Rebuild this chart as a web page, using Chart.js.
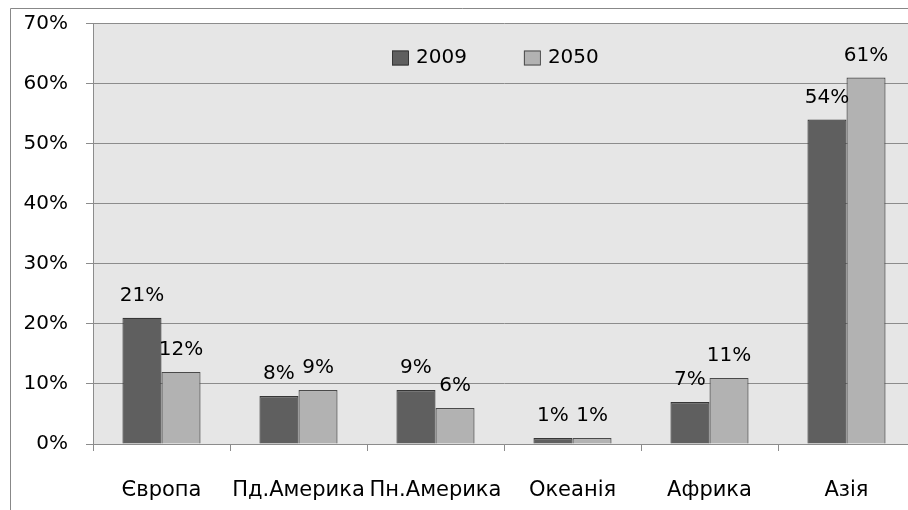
<!DOCTYPE html>
<html>
<head>
<meta charset="utf-8">
<script src="https://cdn.jsdelivr.net/npm/chart.js@4.4.1/dist/chart.umd.min.js"></script>
<style>
  body { margin: 0; overflow: hidden; background: #fff; }
  #wrap { width: 915px; height: 510px; position: relative; }
</style>
</head>
<body>
<div id="wrap"><canvas id="grafico"></canvas></div>
<script>
// dados
const regioes = ['Європа', 'Пд.Америка', 'Пн.Америка', 'Океанія', 'Африка', 'Азія'];
const anos = ['2009', '2050'];
const valores2009 = [21, 8, 9, 1, 7, 54];
const valores2050 = [12, 9, 6, 1, 11, 61];
const eixoMax = 70;
const eixoPasso = 10;

const fonte = { family: 'DejaVu Sans', size: 20 };
const cinzaLinha = '#8c8c8c';

// fundo da area do grafico e moldura externa
const fundo = {
    id: 'fundo',
    beforeDraw(chart) {
        const ctx = chart.ctx;
        const a = chart.chartArea;
        ctx.save();
        ctx.fillStyle = '#e6e6e6';
        ctx.fillRect(a.left, a.top, a.right - a.left, a.bottom - a.top);
        ctx.strokeStyle = '#888888';
        ctx.lineWidth = 1;
        ctx.beginPath();
        ctx.moveTo(10.5, chart.height);
        ctx.lineTo(10.5, 8.5);
        ctx.lineTo(chart.width, 8.5);
        ctx.stroke();
        ctx.restore();
    }
};

// rotulos em cima das barras
const rotulos = {
    id: 'rotulos',
    afterDatasetsDraw(chart) {
        const ctx = chart.ctx;
        ctx.save();
        ctx.font = fonte.size + 'px "' + fonte.family + '"';
        ctx.fillStyle = '#000';
        ctx.textAlign = 'center';
        ctx.textBaseline = 'middle';
        chart.data.datasets.forEach((ds, i) => {
            chart.getDatasetMeta(i).data.forEach((bar, j) => {
                ctx.fillText(ds.data[j] + '%', bar.x, bar.y - 22);
            });
        });
        ctx.restore();
    }
};

// legenda dentro da area
const legenda = {
    id: 'legenda',
    afterDraw(chart) {
        const ctx = chart.ctx;
        const a = chart.chartArea;
        let x = a.left + 299;
        const y = a.top + 34;
        ctx.save();
        ctx.font = '20px "' + fonte.family + '"';
        ctx.textBaseline = 'middle';
        ctx.textAlign = 'left';
        chart.data.datasets.forEach(ds => {
            ctx.fillStyle = ds.backgroundColor;
            ctx.fillRect(x, y - 7, 16, 15);
            ctx.strokeStyle = ds.borderColor;
            ctx.lineWidth = 1;
            ctx.strokeRect(x + 0.5, y - 6.5, 16, 14);
            ctx.fillStyle = '#000';
            ctx.fillText(ds.label, x + 24, y);
            x += 24 + ctx.measureText(ds.label).width + 57;
        });
        ctx.restore();
    }
};

new Chart(document.getElementById('grafico'), {
    type: 'bar',
    data: {
        labels: regioes,
        datasets: [{
            label: anos[0],
            data: valores2009,
            backgroundColor: '#5f5f5f',
            borderColor: '#363636',
            borderWidth: 1.2
        }, {
            label: anos[1],
            data: valores2050,
            backgroundColor: '#b2b2b2',
            borderColor: '#4a4a4a',
            borderWidth: 1.2
        }]
    },
    options: {
        responsive: true,
        maintainAspectRatio: false,
        animation: false,
        layout: { padding: 0 },
        datasets: { bar: { categoryPercentage: 0.57, barPercentage: 1, borderSkipped: 'bottom' } },
        plugins: {
            legend: { display: false },
            tooltip: { enabled: false }
        },
        scales: {
            x: {
                afterFit(scale) { scale.height = 66; },
                grid: { drawOnChartArea: false, color: cinzaLinha, tickLength: 7 },
                border: { color: cinzaLinha },
                ticks: { color: '#000', font: { family: 'DejaVu Sans', size: 21 }, padding: 27, maxRotation: 0, autoSkip: false }
            },
            y: {
                min: 0,
                max: eixoMax,
                afterFit(scale) { scale.width = 93; scale.paddingTop = 23.5; },
                grid: { color: cinzaLinha, tickLength: 7 },
                border: { color: cinzaLinha },
                ticks: {
                    stepSize: eixoPasso,
                    color: '#000',
                    font: fonte,
                    padding: 18,
                    callback: v => v + '%'
                }
            }
        }
    },
    plugins: [fundo, rotulos, legenda]
});
</script>
</body>
</html>
